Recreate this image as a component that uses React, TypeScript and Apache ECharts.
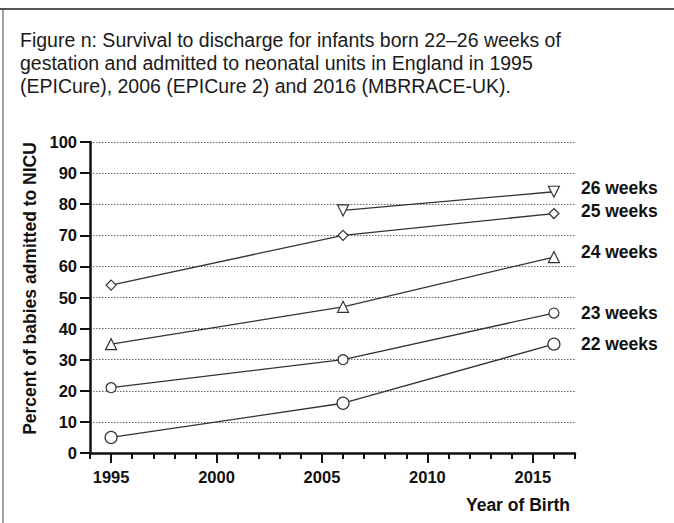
import React, { useEffect, useRef } from "react";
import * as echarts from "echarts";

const titleLines = [
  "Figure n: Survival to discharge for infants born 22–26 weeks of",
  "gestation and admitted to neonatal units in England in 1995",
  "(EPICure), 2006 (EPICure 2) and 2016 (MBRRACE-UK).",
];
const yAxisName = "Percent of babies admitted to NICU";
const xAxisName = "Year of Birth";
const majorYears = [1995, 2000, 2005, 2010, 2015];
const allYears = [1994, 1995, 1996, 1997, 1998, 1999, 2000, 2001, 2002, 2003, 2004, 2005, 2006, 2007, 2008, 2009, 2010, 2011, 2012, 2013, 2014, 2015, 2016, 2017];

const seriesNames = ["22 weeks", "23 weeks", "24 weeks", "25 weeks", "26 weeks"];
const w22 = [[1995, 5], [2006, 16], [2016, 35]];
const w23 = [[1995, 21], [2006, 30], [2016, 45]];
const w24 = [[1995, 35], [2006, 47], [2016, 63]];
const w25 = [[1995, 54], [2006, 70], [2016, 77]];
const w26 = [[2006, 78], [2016, 84]];

const FONT = "'Liberation Sans', Arial, Helvetica, sans-serif";

export default function App() {
  const ref = useRef<HTMLDivElement>(null);
  useEffect(() => {
    if (!ref.current) return;
    const chart = echarts.init(ref.current, null, { renderer: "svg" });
    const mk = (
      name: string,
      data: number[][],
      symbol: string,
      size: number,
      rotate: number,
      offY: number
    ) => ({
      name,
      type: "line",
      data,
      symbol,
      symbolSize: size,
      symbolRotate: rotate,
      showAllSymbol: true,
      lineStyle: { color: "#333", width: 1.3 },
      itemStyle: { color: "#fff", borderColor: "#333", borderWidth: 1.2 },
      emphasis: { disabled: true },
      endLabel: {
        show: true,
        formatter: name,
        distance: 27,
        offset: [0, offY],
        fontFamily: FONT,
        fontWeight: "bold",
        fontSize: 17.5,
        color: "#111",
      },
      z: 3,
    });
    chart.setOption({
      animation: false,
      textStyle: { fontFamily: FONT },
      title: {
        text: titleLines.join("\n"),
        left: 20,
        top: 28,
        padding: 0,
        textStyle: {
          fontFamily: FONT,
          fontSize: 19.5,
          fontWeight: "normal",
          color: "#1a1a1a",
          lineHeight: 23,
        },
      },
      graphic: [
        { type: "line", shape: { x1: 0, y1: 9, x2: 674, y2: 9 }, style: { stroke: "#555", lineWidth: 2 } },
        { type: "line", shape: { x1: 3, y1: 9, x2: 3, y2: 523 }, style: { stroke: "#444", lineWidth: 1 } },
      ],
      grid: { left: 90, right: 99, top: 142, bottom: 70 },
      xAxis: [
        {
          type: "value",
          min: 1994,
          max: 2017,
          name: xAxisName,
          nameLocation: "end",
          nameGap: -5,
          nameTextStyle: {
            fontFamily: FONT,
            fontWeight: "bold",
            fontSize: 17.5,
            color: "#111",
            align: "right",
            verticalAlign: "top",
            padding: [43, 0, 0, 0],
          },
          axisLine: { show: true, lineStyle: { color: "#111", width: 2.5 } },
          axisTick: { show: true, customValues: majorYears, length: 10, lineStyle: { color: "#111", width: 2 } },
          axisLabel: {
            customValues: majorYears,
            formatter: (v: number) => String(v),
            fontFamily: FONT,
            fontWeight: "bold",
            fontSize: 16.5,
            color: "#111",
            margin: 15,
          },
          splitLine: { show: false },
        },
        {
          type: "value",
          min: 1994,
          max: 2017,
          position: "bottom",
          axisLine: { show: false },
          axisTick: { show: true, customValues: allYears, length: 6, lineStyle: { color: "#111", width: 2 } },
          axisLabel: { show: false },
          splitLine: { show: false },
        },
      ],
      yAxis: {
        type: "value",
        min: 0,
        max: 100,
        interval: 10,
        name: yAxisName,
        nameLocation: "middle",
        nameRotate: 90,
        nameGap: 49,
        nameTextStyle: {
          fontFamily: FONT,
          fontWeight: "bold",
          fontSize: 17.5,
          color: "#111",
          padding: [0, 0, 0, 18],
        },
        axisLine: { show: true, lineStyle: { color: "#111", width: 2.5 } },
        axisTick: { show: true, length: 10, lineStyle: { color: "#111", width: 2 } },
        axisLabel: {
          fontFamily: FONT,
          fontWeight: "bold",
          fontSize: 16.5,
          color: "#111",
          margin: 13,
        },
        splitLine: { show: true, lineStyle: { color: "#666", type: [1.5, 1.5], width: 1 } },
      },
      series: [
        mk(seriesNames[0], w22, "circle", 12, 0, 0),
        mk(seriesNames[1], w23, "circle", 10, 0, 0),
        mk(seriesNames[2], w24, "triangle", 11, 0, -5),
        mk(seriesNames[3], w25, "diamond", 10, 0, -3),
        mk(seriesNames[4], w26, "triangle", 11, 180, -4),
      ],
    });
    return () => chart.dispose();
  }, []);
  return (
    <div
      ref={ref}
      style={{ position: "absolute", left: 0, top: 0, width: 674, height: 523, background: "#fff" }}
    />
  );
}
